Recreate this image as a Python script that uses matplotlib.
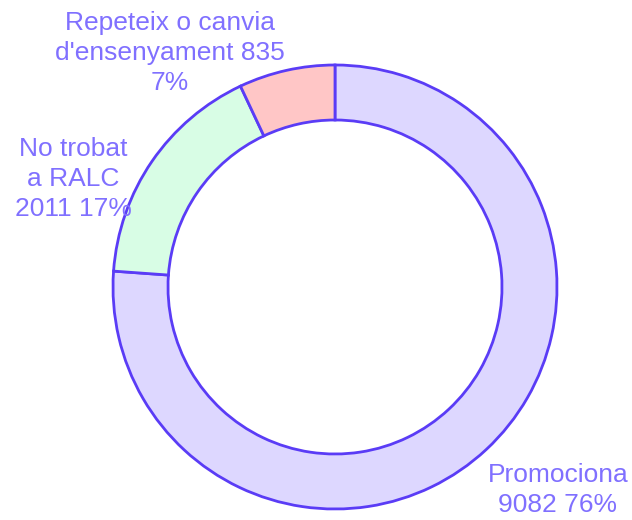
import matplotlib.pyplot as plt

labels = ["Promociona", "No trobat\na RALC", "Repeteix o canvia\nd'ensenyament"]
values = [9082, 2011, 835]
percents = [76, 17, 7]
colors = ["#ddd7ff", "#d8fde5", "#ffc6c6"]

plt.rcParams['font.family'] = ['Liberation Sans', 'DejaVu Sans']

fig = plt.figure(figsize=(6.32, 5.2), dpi=100)
ax = fig.add_axes([0, 0, 1, 1])

# donut, drawn clockwise from the top
ax.pie(values, colors=colors, startangle=90, counterclock=False,
       radius=222, center=(335, 233), frame=True,
       wedgeprops=dict(width=55, edgecolor="#5a3cf6", linewidth=2))
ax.set_xlim(0, 632)
ax.set_ylim(0, 520)
ax.set_aspect('equal')
ax.axis('off')

texts = [
    "Promociona\n9082 76%",
    "No trobat\na RALC\n2011 17%",
    "Repeteix o canvia\nd'ensenyament 835\n7%",
]
positions = [(558, 30), (73, 341), (170, 467)]
for t, (x, y) in zip(texts, positions):
    ax.text(x, y, t, ha='center', va='center', color="#8070ff",
            fontsize=19, linespacing=1.3)

fig.savefig("out.png", dpi=100)
